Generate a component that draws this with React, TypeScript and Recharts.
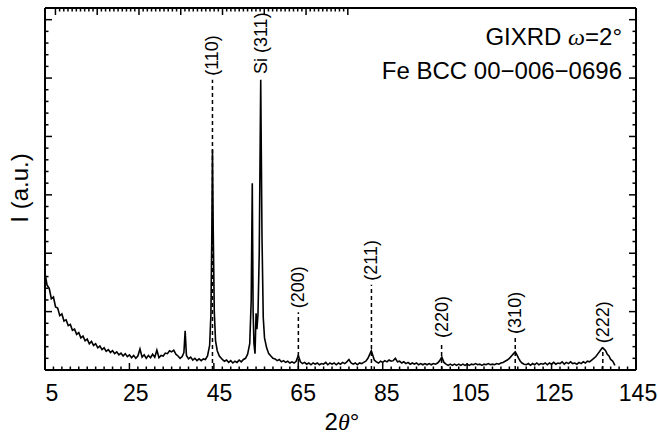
import React from "react";
import { LineChart, Line, XAxis, YAxis, ReferenceLine, ReferenceDot } from "recharts";

// 2θ (degrees) and intensity (a.u.)
const twoTheta = [
  5.0, 5.5, 6.0, 6.5, 7.0, 7.5, 8.0, 8.5, 9.0, 9.5,
  10.0, 10.5, 11.0, 11.5, 12.0, 12.5, 13.0, 13.5, 14.0, 14.5,
  15.0, 15.5, 16.0, 16.5, 17.0, 17.5, 18.0, 18.5, 19.0, 19.5,
  20.0, 20.5, 21.0, 21.5, 22.0, 22.5, 23.0, 23.5, 24.0, 24.5,
  25.0, 25.5, 26.0, 26.5, 27.0, 27.5, 28.0, 28.5, 29.0, 29.5,
  30.0, 30.5, 31.0, 31.5, 32.0, 32.5, 33.0, 33.5, 34.0, 34.5,
  35.0, 35.5, 36.0, 36.5, 37.0, 37.5, 37.9, 38.2, 38.5, 39.0,
  39.5, 40.0, 40.5, 41.0, 41.5, 42.0, 42.5, 43.0, 43.5, 44.0,
  44.3, 44.5, 44.67, 44.85, 45.1, 45.4, 45.8, 46.3, 47.0, 47.5,
  48.0, 48.5, 49.0, 49.5, 50.0, 50.5, 51.0, 51.5, 52.0, 52.5,
  53.0, 53.5, 53.85, 54.1, 54.3, 54.5, 54.75, 55.0, 55.2, 55.45,
  55.75, 56.1, 56.4, 56.7, 57.0, 57.5, 58.0, 58.5, 59.0, 59.5,
  60.0, 60.5, 61.0, 61.5, 62.0, 62.5, 63.0, 63.5, 64.0, 64.5,
  65.0, 65.5, 66.0, 66.5, 67.0, 67.5, 68.0, 68.5, 69.0, 69.5,
  70.0, 70.5, 71.0, 71.5, 72.0, 72.5, 73.0, 73.5, 74.0, 74.5,
  75.0, 75.5, 76.0, 76.5, 77.0, 77.5, 78.0, 78.5, 79.0, 79.5,
  80.0, 80.5, 81.0, 81.5, 82.0, 82.3, 82.7, 83.0, 83.5, 84.0,
  84.5, 85.0, 85.5, 86.0, 86.5, 87.0, 87.5, 88.0, 88.5, 89.0,
  89.5, 90.0, 90.5, 91.0, 91.5, 92.0, 92.5, 93.0, 93.5, 94.0,
  94.5, 95.0, 95.5, 96.0, 96.5, 97.0, 97.5, 98.0, 98.5, 99.0,
  99.5, 100.0, 100.5, 101.0, 101.5, 102.0, 102.5, 103.0, 103.5, 104.0,
  104.5, 105.0, 105.5, 106.0, 106.5, 107.0, 107.5, 108.0, 108.5, 109.0,
  109.5, 110.0, 110.5, 111.0, 111.5, 112.0, 112.5, 113.0, 113.5, 114.0,
  114.5, 115.0, 115.5, 116.0, 116.4, 116.8, 117.2, 117.6, 118.0, 118.5,
  119.0, 119.5, 120.0, 120.5, 121.0, 121.5, 122.0, 122.5, 123.0, 123.5,
  124.0, 124.5, 125.0, 125.5, 126.0, 126.5, 127.0, 127.5, 128.0, 128.5,
  129.0, 129.5, 130.0, 130.5, 131.0, 131.5, 132.0, 132.5, 133.0, 133.5,
  134.0, 134.5, 135.0, 135.5, 136.0, 136.5, 137.0, 137.4, 137.8, 138.2,
  138.6, 139.0, 139.5, 140.0,
];

const intensity = [
  1.66, 1.45, 1.40, 1.22, 1.25, 1.08, 1.06, 0.93, 0.96, 0.84,
  0.86, 0.76, 0.78, 0.68, 0.70, 0.61, 0.64, 0.55, 0.58, 0.50,
  0.53, 0.45, 0.49, 0.42, 0.45, 0.38, 0.41, 0.35, 0.38, 0.32,
  0.35, 0.30, 0.33, 0.28, 0.31, 0.26, 0.29, 0.24, 0.28, 0.23,
  0.26, 0.21, 0.25, 0.20, 0.24, 0.36, 0.22, 0.26, 0.20, 0.25,
  0.21, 0.27, 0.22, 0.34, 0.21, 0.25, 0.24, 0.29, 0.28, 0.33,
  0.31, 0.34, 0.27, 0.24, 0.20, 0.23, 0.30, 0.67, 0.25, 0.19,
  0.22, 0.17, 0.20, 0.16, 0.19, 0.16, 0.19, 0.18, 0.24, 0.42,
  0.95, 2.2, 3.77, 2.4, 1.0, 0.5, 0.33, 0.24, 0.18, 0.15,
  0.17, 0.13, 0.16, 0.12, 0.15, 0.13, 0.17, 0.14, 0.18, 0.20,
  0.27, 0.45, 1.2, 3.2, 1.0, 0.45, 0.28, 0.97, 0.7, 0.95,
  2.0, 4.97, 2.3, 0.9, 0.55, 0.38, 0.28, 0.24, 0.20, 0.19,
  0.16, 0.18, 0.14, 0.16, 0.13, 0.15, 0.12, 0.14, 0.12, 0.15,
  0.25, 0.14, 0.11, 0.13, 0.10, 0.12, 0.09, 0.12, 0.10, 0.12,
  0.09, 0.11, 0.10, 0.13, 0.09, 0.12, 0.10, 0.12, 0.09, 0.12,
  0.10, 0.13, 0.11, 0.14, 0.18, 0.12, 0.10, 0.12, 0.09, 0.12,
  0.11, 0.13, 0.15, 0.20, 0.28, 0.33, 0.24, 0.17, 0.14, 0.12,
  0.15, 0.13, 0.16, 0.14, 0.17, 0.15, 0.16, 0.20, 0.14, 0.15,
  0.12, 0.14, 0.11, 0.13, 0.10, 0.12, 0.10, 0.12, 0.09, 0.11,
  0.09, 0.11, 0.09, 0.11, 0.09, 0.11, 0.10, 0.12, 0.16, 0.22,
  0.13, 0.10, 0.08, 0.10, 0.08, 0.10, 0.08, 0.10, 0.08, 0.10,
  0.08, 0.10, 0.08, 0.10, 0.09, 0.11, 0.09, 0.10, 0.08, 0.10,
  0.09, 0.11, 0.09, 0.10, 0.09, 0.11, 0.10, 0.12, 0.13, 0.15,
  0.17, 0.20, 0.24, 0.28, 0.31, 0.26, 0.20, 0.15, 0.12, 0.10,
  0.09, 0.11, 0.08, 0.11, 0.09, 0.12, 0.09, 0.11, 0.10, 0.12,
  0.09, 0.12, 0.10, 0.13, 0.10, 0.12, 0.11, 0.14, 0.10, 0.13,
  0.11, 0.14, 0.11, 0.12, 0.10, 0.13, 0.11, 0.14, 0.12, 0.15,
  0.14, 0.17, 0.20, 0.23, 0.28, 0.33, 0.38, 0.36, 0.33, 0.27,
  0.24, 0.18, 0.15, 0.08,
];

// Fe BCC reflections (PDF 00-006-0696)
const hklLabels = ["(110)", "(200)", "(211)", "(220)", "(310)", "(222)"];
const hklPositions = [44.67, 65.02, 82.33, 98.95, 116.39, 137.14];
const hklMarkerTops = [4.97, 0.99, 1.46, 0.48, 0.55, 0.39];

const siLabel = "Si (311)";
const siPosition = 56.1;
const siTop = 5.0;

const xTickLabels = [5, 25, 45, 65, 85, 105, 125, 145];

const xMinorTicks: number[] = [];
for (let v = 5; v <= 145; v += 2) xMinorTicks.push(v);
const yMinorTicks: number[] = [];
for (let i = 0; i <= 31; i++) yMinorTicks.push(Math.round(i * 0.2 * 10) / 10);

const data = twoTheta.map((x, i) => ({ x, y: intensity[i] }));

const sans = "'Liberation Sans', Arial, sans-serif";
const serif = "'Liberation Serif', 'Times New Roman', serif";

const isXMajor = (v: number) => xTickLabels.includes(v);
const isYMajor = (v: number) => Math.abs(v - Math.round(v)) < 1e-6;

const BottomTick = (props: any) => {
  const { x, y, payload } = props;
  const major = isXMajor(payload.value);
  // labels sit a little right of their ticks, as in the original plot
  const shift = 7 - ((payload.value - 5) / 140) * 5;
  return (
    <g>
      <line x1={x} x2={x} y1={y} y2={y - (major ? 7 : 3.5)} stroke="#000" strokeWidth={1.5} />
      {major && (
        <text x={x + shift} y={y + 31} textAnchor="middle" fontSize={23} fontFamily={sans} fill="#000">
          {payload.value}
        </text>
      )}
    </g>
  );
};

const TopTick = (props: any) => {
  const { x, y, payload } = props;
  const major = isXMajor(payload.value);
  return <line x1={x} x2={x} y1={y} y2={y + (major ? 7 : 3.5)} stroke="#000" strokeWidth={1.5} />;
};

const LeftTick = (props: any) => {
  const { x, y, payload } = props;
  const major = isYMajor(payload.value);
  return <line x1={x} x2={x + (major ? 7 : 3.5)} y1={y} y2={y} stroke="#000" strokeWidth={1.5} />;
};

const RightTick = (props: any) => {
  const { x, y, payload } = props;
  const major = isYMajor(payload.value);
  return <line x1={x} x2={x - (major ? 7 : 3.5)} y1={y} y2={y} stroke="#000" strokeWidth={1.5} />;
};

const peakLabel = (text: string) => (p: any) => (
  <text
    transform={`translate(${p.cx + 6},${p.cy - 4}) rotate(-90)`}
    fontSize={18}
    fontFamily={sans}
    fill="#000"
  >
    {text}
  </text>
);

const frame = { stroke: "#000", strokeWidth: 2 };

export default function App() {
  return (
    <div
      style={{
        position: "absolute",
        left: 0,
        top: 0,
        width: 658,
        height: 438,
        background: "#fff",
        fontFamily: sans,
        color: "#000",
      }}
    >
      <LineChart width={658} height={438} data={data} margin={{ top: 7, right: 21, bottom: 38, left: 44 }}>
        <XAxis
          xAxisId="b"
          dataKey="x"
          type="number"
          domain={[5, 145]}
          ticks={xMinorTicks}
          interval={0}
          tickSize={0}
          tickMargin={0}
          tickLine={false}
          axisLine={frame}
          tick={<BottomTick />}
          height={30}
          allowDataOverflow
        />
        <XAxis
          xAxisId="t"
          orientation="top"
          type="number"
          domain={[5, 145]}
          ticks={xMinorTicks}
          interval={0}
          tickSize={0}
          tickMargin={0}
          tickLine={false}
          axisLine={frame}
          tick={<TopTick />}
          height={1}
          allowDataOverflow
        />
        <YAxis
          yAxisId="l"
          type="number"
          domain={[0, 6.2]}
          ticks={yMinorTicks}
          interval={0}
          tickSize={0}
          tickMargin={0}
          tickLine={false}
          axisLine={frame}
          tick={<LeftTick />}
          width={1}
          allowDataOverflow
        />
        <YAxis
          yAxisId="r"
          orientation="right"
          type="number"
          domain={[0, 6.2]}
          ticks={yMinorTicks}
          interval={0}
          tickSize={0}
          tickMargin={0}
          tickLine={false}
          axisLine={frame}
          tick={<RightTick />}
          width={1}
          allowDataOverflow
        />
        {hklPositions.map((pos, i) => (
          <ReferenceLine
            key={hklLabels[i]}
            xAxisId="b"
            yAxisId="l"
            segment={[
              { x: pos, y: 0 },
              { x: pos, y: hklMarkerTops[i] },
            ]}
            stroke="#000"
            strokeWidth={1.5}
            strokeDasharray="4 3"
          />
        ))}
        <Line
          xAxisId="b"
          yAxisId="l"
          dataKey="y"
          type="linear"
          stroke="#000"
          strokeWidth={1.6}
          dot={false}
          isAnimationActive={false}
        />
        {hklPositions.map((pos, i) => (
          <ReferenceDot
            key={"lbl" + hklLabels[i]}
            xAxisId="b"
            yAxisId="l"
            x={pos}
            y={hklMarkerTops[i]}
            r={0}
            shape={peakLabel(hklLabels[i])}
          />
        ))}
        <ReferenceDot xAxisId="b" yAxisId="l" x={siPosition} y={siTop} r={0} shape={peakLabel(siLabel)} />
      </LineChart>

      <div
        style={{
          position: "absolute",
          right: 36,
          top: 20,
          fontSize: 24,
          lineHeight: "33px",
          textAlign: "right",
          whiteSpace: "nowrap",
        }}
      >
        <div>
          GIXRD <span style={{ fontFamily: serif, fontStyle: "italic" }}>ω</span>=2°
        </div>
        <div>Fe BCC 00−006−0696</div>
      </div>

      <div
        style={{
          position: "absolute",
          left: 342,
          top: 408,
          transform: "translateX(-50%)",
          fontSize: 24,
          lineHeight: "28px",
          whiteSpace: "nowrap",
        }}
      >
        2<span style={{ fontFamily: serif, fontStyle: "italic" }}>θ</span>°
      </div>

      <div
        style={{
          position: "absolute",
          left: 20,
          top: 188,
          transform: "translate(-50%, -50%) rotate(-90deg)",
          fontSize: 24,
          lineHeight: "28px",
          whiteSpace: "nowrap",
        }}
      >
        I (a.u.)
      </div>
    </div>
  );
}
